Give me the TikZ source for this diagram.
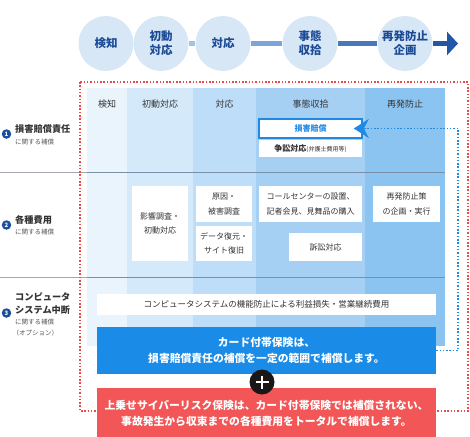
\documentclass[tikz,border=0pt]{standalone}
\usepackage{fontspec}
\setmainfont{Noto Sans CJK JP}
\usepackage{tikz}
\usetikzlibrary{arrows.meta,positioning}

\definecolor{circulo}{HTML}{D7E7F6}
\definecolor{circulotxt}{HTML}{1C4B96}
\definecolor{barraA}{HTML}{A3C2E6}
\definecolor{barraB}{HTML}{7BA5D7}
\definecolor{barraC}{HTML}{4877BC}
\definecolor{barraD}{HTML}{2356A6}
\definecolor{colA}{HTML}{E9F4FC}
\definecolor{colB}{HTML}{D4E9FA}
\definecolor{colC}{HTML}{BEDDF8}
\definecolor{colD}{HTML}{A5D0F4}
\definecolor{colE}{HTML}{8BC4F1}
\definecolor{texto}{HTML}{333333}
\definecolor{subtexto}{HTML}{555555}
\definecolor{numero}{HTML}{1B4F9C}
\definecolor{lineagris}{HTML}{A3A9AF}
\definecolor{lineatabla}{HTML}{7890A8}
\definecolor{azul}{HTML}{1F8AE4}
\definecolor{azulcaja}{HTML}{1A8BE6}
\definecolor{rojo}{HTML}{E94A4A}
\definecolor{rojocaja}{HTML}{F25656}
\definecolor{negro}{HTML}{1B1717}

\begin{document}
\begin{tikzpicture}[x=1pt, y=-1pt,
    etapa/.style={circle, fill=circulo, minimum size=55pt, inner sep=0pt, align=center, text=circulotxt, font=\bfseries\fontsize{11.5}{14}\selectfont},
    barra/.style={line width=5pt},
    cabeza/.style={text=texto, font=\fontsize{9}{10}\selectfont},
    caja/.style={fill=white, inner sep=0pt, align=center, text=texto, font=\fontsize{8}{14.5}\selectfont},
    titulo/.style={anchor=west, inner sep=0pt, text=texto, font=\bfseries\fontsize{9.2}{11}\selectfont},
    sub/.style={anchor=west, inner sep=0pt, text=subtexto, font=\fontsize{6.5}{8}\selectfont},
    num/.style={circle, fill=numero, text=white, inner sep=0pt, minimum size=9.5pt, font=\bfseries\fontsize{6}{6}\selectfont},
    banda/.style={inner sep=0pt, minimum width=339pt, text=white, align=center, font=\bfseries\fontsize{10.8}{16}\selectfont}
  ]
  \useasboundingbox (0,0) rectangle (470,436);

  % etapas
  \node[etapa] (p1) at (106,43.5) {検知};
  \node[etapa] (p2) at (161,43.5) {初動\\対応};
  \node[etapa] (p3) at (223,43.5) {対応};
  \node[etapa] (p4) at (310,43.5) {事態\\収拾};
  \node[etapa] (p5) at (405,43.5) {再発防止\\企画};
  \coordinate (fin) at (458,43.5);
  \draw[barra, barraA] (p2.east) -- (p3.west);
  \draw[barra, barraB] (p3.east) -- (p4.west);
  \draw[barra, barraC] (p4.east) -- (p5.west);
  \draw[barra, barraD, -{Triangle[length=11pt, width=23pt]}] (p5.east) -- (fin);

  % tabla
  \foreach \xa/\xb/\c in {87/127/colA, 127/193/colB, 193/256/colC, 256/365/colD, 365/445/colE}
    \fill[\c] (\xa,88) rectangle (\xb,346);
  \foreach \x/\t/\n in {107/検知/h1, 160/初動対応/h2, 224.5/対応/h3, 310.5/事態収拾/h4, 405/再発防止/h5}
    \node[cabeza] (\n) at (\x,104) {\t};
  \foreach \y in {172,277} {
    \draw[lineagris, line width=1pt] (0,\y) -- (87,\y);
    \draw[lineatabla, line width=1pt] (87,\y) -- (445,\y);
  }

  % filas
  \node[num] (n1) at (6.5,134) {1};
  \node[titulo] (r1t) at (15,129) {損害賠償責任};
  \node[sub] (r1s) at (15,142) {に関する補償};
  \node[num] (n2) at (6.5,225) {2};
  \node[titulo] (r2t) at (15,220) {各種費用};
  \node[sub] (r2s) at (15,232) {に関する補償};
  \node[num] (n3) at (6.5,313) {3};
  \node[titulo] (r3t) at (15,297) {コンピュータ};
  \node[titulo] (r3u) at (15,310) {システム中断};
  \node[sub] (r3s) at (15,322) {に関する補償};
  \node[sub] (r3o) at (12.5,333) {（オプション）};

  \draw[rojo, line width=1.5pt, dash pattern=on 1.5pt off 1.8pt] (80,82) rectangle (468,411);

  % celdas
  \node[caja, minimum width=103pt, minimum height=19pt, draw=azul, line width=1.5pt, text=azul, font=\bfseries\fontsize{8}{10}\selectfont] (songai) at (310.5,128.5) {損害賠償};
  \node[caja, minimum width=103pt, minimum height=17pt, font=\bfseries\fontsize{8}{10}\selectfont] (soshou) at (310.5,148.5) {争訟対応{\mdseries\fontsize{6}{7}\selectfont (弁護士費用等)}};
  \node[caja, minimum width=56pt, minimum height=75pt] (eikyo) at (160,223.5) {影響調査・\\初動対応};
  \node[caja, minimum width=56pt, minimum height=36pt] (genin) at (224,204) {原因・\\被害調査};
  \node[caja, minimum width=56pt, minimum height=35pt] (fukugen) at (224,243.5) {データ復元・\\サイト復旧};
  \node[caja, minimum width=103pt, minimum height=36pt] (koru) at (310.5,204) {コールセンターの設置、\\記者会見、見舞品の購入};
  \node[caja, minimum width=73pt, minimum height=28pt] (sosho) at (325.5,247) {訴訟対応};
  \node[caja, minimum width=67pt, minimum height=36pt] (boushi) at (406.5,204) {再発防止策\\の企画・実行};
  \node[caja, minimum width=339pt, minimum height=21pt, font=\fontsize{8.5}{10}\selectfont] (kino) at (266.5,304.5) {コンピュータシステムの機能防止による利益損失・営業継続費用};

  % hoken
  \node[banda, fill=azulcaja, minimum height=47pt] (kard) at (266.5,350.5) {カード付帯保険は、\\損害賠償責任の補償を一定の範囲で補償します。};
  \node[banda, fill=rojocaja, minimum height=50pt] (uwa) at (266.5,413) {上乗せサイバーリスク保険は、カード付帯保険では補償されない、\\事故発生から収束までの各種費用をトータルで補償します。};
  \node[circle, fill=negro, minimum size=25pt, inner sep=0pt] (mas) at (262,382) {};
  \draw[white, line width=2.8pt] ([xshift=-6.5pt]mas.center) -- ([xshift=6.5pt]mas.center);
  \draw[white, line width=2.8pt] ([yshift=-6.5pt]mas.center) -- ([yshift=6.5pt]mas.center);

  \draw[azul, line width=1.5pt, dash pattern=on 1.5pt off 1.8pt, -{Stealth[length=15pt, width=19pt]}]
    (kard.east) -- ++(22,0) |- ([xshift=-9pt]songai.east);
\end{tikzpicture}
\end{document}
